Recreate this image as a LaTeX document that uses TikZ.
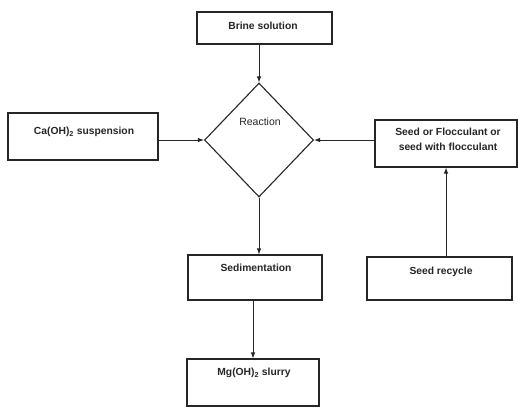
\documentclass[tikz,border=0pt]{standalone}
\usepackage{fontspec}
\setmainfont{Liberation Sans}
\usetikzlibrary{shapes.geometric,arrows.meta,calc}
\begin{document}
\begin{tikzpicture}[x=1pt,y=-1pt,
  box/.style={draw=black!85,line width=1.1pt,rectangle,inner sep=0pt},
  lbl/.style={font=\fontsize{10.3}{12}\selectfont\bfseries,inner sep=0pt,align=center,text=black!85},
  conn/.style={draw=black!85,line width=0.9pt,-{Latex[length=6pt,width=4.5pt]}}]
\useasboundingbox[fill=white] (0,0) rectangle (518,408);
% boxes
\node[box,minimum width=135pt,minimum height=32pt] (brine) at (264.5,28) {};
\node[lbl] (brinet) at (263,26) {Brine solution};
\node[box,minimum width=150pt,minimum height=47pt] (ca) at (83,136.5) {};
\node[lbl] (cat) at (84,132) {Ca(OH)\textsubscript{2} suspension};
\node[box,shape=diamond,minimum width=109pt,minimum height=114pt] (dia) at (259,140) {};
\node[lbl,font=\fontsize{10.5}{12}\selectfont] (diat) at (260,122) {Reaction};
\node[box,minimum width=142pt,minimum height=47pt] (seed) at (446,143.5) {};
\node[lbl,font=\fontsize{10.3}{15}\selectfont\bfseries] (seedt) at (448,139.5) {Seed or Flocculant or\\seed with flocculant};
\node[box,minimum width=134pt,minimum height=45pt] (sed) at (255,277.5) {};
\node[lbl] (sedt) at (256,268) {Sedimentation};
\node[box,minimum width=145pt,minimum height=43pt] (rec) at (439.5,278.5) {};
\node[lbl] (rect) at (441,272) {Seed recycle};
\node[box,minimum width=132pt,minimum height=47pt] (mg) at (253,382.5) {};
\node[lbl] (mgt) at (254,373) {Mg(OH)\textsubscript{2} slurry};
% connectors
\draw[conn] (dia.north |- brine.south) -- (dia.north);
\draw[conn] (ca.east |- dia.west) -- (dia.west);
\draw[conn] (seed.west |- dia.east) -- (dia.east);
\draw[conn] (dia.south) -- (dia.south |- sed.north);
\draw[conn] (mg.north |- sed.south) -- (mg.north);
\draw[conn] (seed.south |- rec.north) -- (seed.south);
\end{tikzpicture}
\end{document}
